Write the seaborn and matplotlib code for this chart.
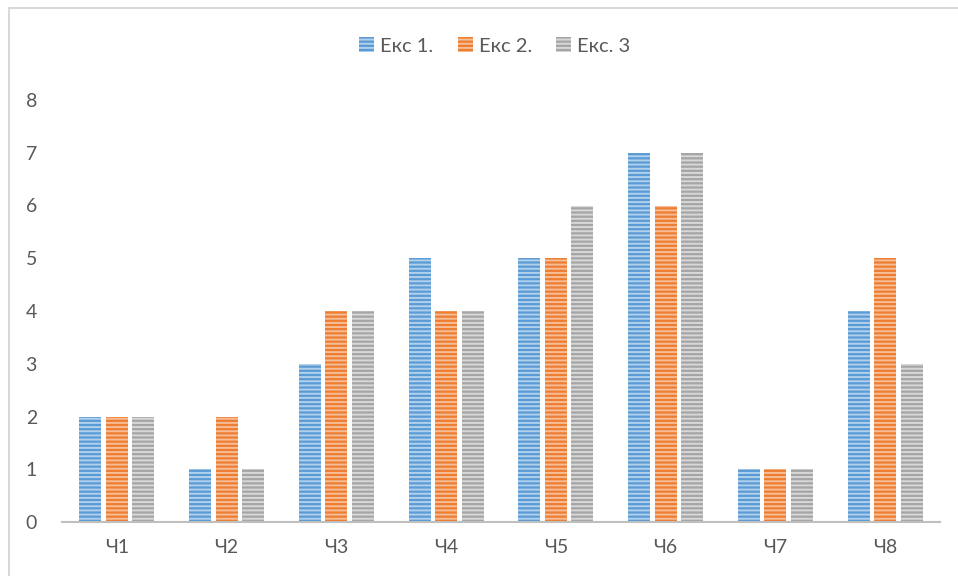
import matplotlib
matplotlib.use("Agg")
import matplotlib.pyplot as plt
import matplotlib.patches as mpatches
import seaborn as sns
import pandas as pd

categories = ["Ч1", "Ч2", "Ч3", "Ч4", "Ч5", "Ч6", "Ч7", "Ч8"]
series_names = ["Екс 1.", "Екс 2.", "Екс. 3"]
eks1 = [2, 1, 3, 5, 5, 7, 1, 4]
eks2 = [2, 2, 4, 4, 5, 6, 1, 5]
eks3 = [2, 1, 4, 4, 6, 7, 1, 3]
y_ticks = [0, 1, 2, 3, 4, 5, 6, 7, 8]

fill_colors = ["#5B9BD5", "#ED7D31", "#A5A5A5"]
stripe_colors = ["#B0D0EC", "#F7BD96", "#D8D8D8"]
text_color = "#595959"

df = pd.DataFrame({
    "cat": categories * 3,
    "series": [series_names[0]] * 8 + [series_names[1]] * 8 + [series_names[2]] * 8,
    "value": eks1 + eks2 + eks3,
})

sns.set_theme(style="white")
plt.rcParams["font.family"] = ["Lato", "DejaVu Sans"]
plt.rcParams["hatch.linewidth"] = 1.4

fig = plt.figure(figsize=(9.58, 5.76), dpi=100)
ax = fig.add_axes([62 / 958, 1 - 522 / 576, (940 - 62) / 958, (522 - 100) / 576])

sns.barplot(data=df, x="cat", y="value", hue="series", order=categories,
            hue_order=series_names, palette=fill_colors, width=0.725, gap=0.17,
            legend=False, ax=ax, saturation=1)

# striped fill: lighter horizontal lines drawn as hatch over each bar
for container, stripe in zip(ax.containers, stripe_colors):
    for bar in container:
        bar.set_hatch("----")
        bar.set_edgecolor(stripe)
        bar.set_linewidth(0)

ax.set_ylim(0, 8)
ax.set_xlim(-0.5, len(categories) - 0.5)
ax.set_yticks(y_ticks)
ax.set_xlabel("")
ax.set_ylabel("")
for s in ["top", "right", "left"]:
    ax.spines[s].set_visible(False)
ax.spines["bottom"].set_color("#BFBFBF")
ax.spines["bottom"].set_linewidth(1.5)
ax.tick_params(axis="both", length=0, labelsize=14, colors=text_color)
ax.tick_params(axis="y", pad=18)
ax.tick_params(axis="x", pad=12)

handles = [mpatches.Patch(facecolor=c, edgecolor=s, hatch="----", linewidth=0)
           for c, s in zip(fill_colors, stripe_colors)]
fig.legend(handles, series_names, loc="center", bbox_to_anchor=(495 / 958, 1 - 46 / 576),
           ncol=3, frameon=False, fontsize=14.5, labelcolor=text_color,
           handlelength=0.75, handleheight=0.75, handletextpad=0.3, columnspacing=1.2)

# outer chart frame
fig.patches.append(mpatches.Rectangle((8.5 / 958, -0.05), 1.1, 1 - 7.5 / 576 + 0.05,
                                      transform=fig.transFigure, fill=False,
                                      edgecolor="#D9D9D9", linewidth=1.5))

fig.savefig("out.png", dpi=100)
